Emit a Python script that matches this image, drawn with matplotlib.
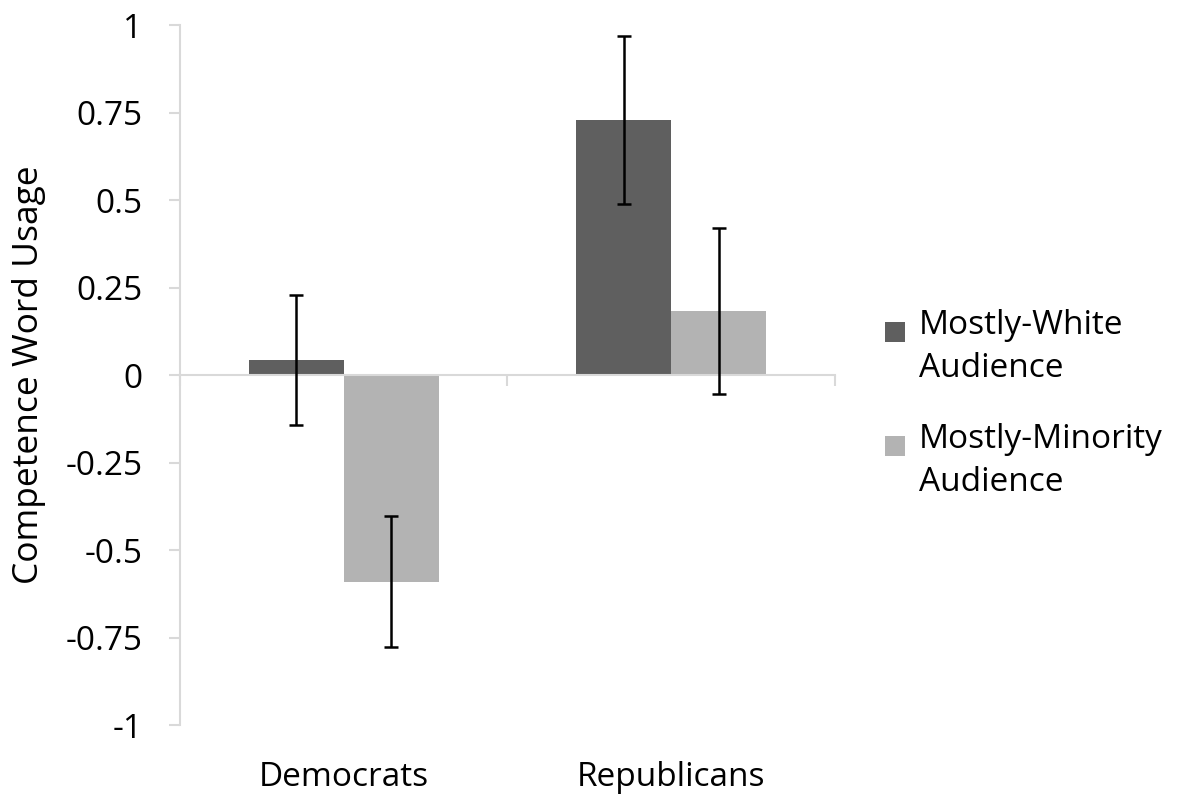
import numpy as np
import matplotlib
matplotlib.use("Agg")
import matplotlib.pyplot as plt
from matplotlib.legend_handler import HandlerPatch
from matplotlib.patches import Rectangle
from matplotlib.ticker import FixedLocator, FuncFormatter

plt.rcParams['font.family'] = ['Open Sans', 'DejaVu Sans']

# -------------------------
# Data
# -------------------------
categories = ['Democrats', 'Republicans']
series_names = ['Mostly-White\nAudience', 'Mostly-Minority\nAudience']
white_vals = [0.043, 0.729]
white_err = [0.185, 0.240]
minority_vals = [-0.590, 0.183]
minority_err = [0.186, 0.238]

colors = ['#5f5f5f', '#b3b3b3']
axis_grey = '#d9d9d9'


class TopSquare(HandlerPatch):
    # square aligned with first line of a two-line label
    def create_artists(self, legend, orig_handle, xdescent, ydescent,
                       width, height, fontsize, trans):
        size = 0.6 * fontsize
        p = Rectangle((-xdescent, -ydescent + height - size * 1.25), size, size,
                      facecolor=orig_handle.get_facecolor(), edgecolor='none',
                      transform=trans)
        return [p]


# -------------------------
# Plot
# -------------------------
fig = plt.figure(figsize=(11.91, 7.97), dpi=100)
ax = fig.add_axes([0.1511, 0.0903, 0.5499, 0.8783])

x = np.arange(len(categories))
w = 0.29

b1 = ax.bar(x - w / 2, white_vals, w, color=colors[0], label=series_names[0], zorder=2)
b2 = ax.bar(x + w / 2, minority_vals, w, color=colors[1], label=series_names[1], zorder=2)

ax.errorbar(x - w / 2, white_vals, yerr=white_err, fmt='none', ecolor='black',
            elinewidth=1.8, capsize=5, capthick=1.8, zorder=4)
ax.errorbar(x + w / 2, minority_vals, yerr=minority_err, fmt='none', ecolor='black',
            elinewidth=1.8, capsize=5, capthick=1.8, zorder=4)

# -------------------------
# Axes styling
# -------------------------
ax.set_xlim(-0.5, 1.5)
ax.set_ylim(-1, 1)

ax.yaxis.set_major_locator(FixedLocator(np.arange(-1, 1.01, 0.25)))
ax.yaxis.set_major_formatter(FuncFormatter(lambda v, p: f"{v:g}"))
ax.tick_params(axis='y', direction='out', length=8, width=1.5, color=axis_grey,
               labelsize=24, pad=19)

ax.spines['top'].set_visible(False)
ax.spines['right'].set_visible(False)
ax.spines['left'].set_color(axis_grey)
ax.spines['left'].set_linewidth(1.5)
ax.spines['bottom'].set_position(('data', 0))
ax.spines['bottom'].set_color(axis_grey)
ax.spines['bottom'].set_linewidth(1.5)
ax.spines['bottom'].set_zorder(3)

ax.set_xticks([-0.5, 0.5, 1.5])
ax.set_xticklabels([])
ax.tick_params(axis='x', direction='out', length=8, width=1.5, color=axis_grey)

for xi, name in zip(x, categories):
    ax.text(xi, -0.052, name, transform=ax.get_xaxis_transform(),
            ha='center', va='top', fontsize=24)

ax.set_ylabel("Competence Word Usage", fontsize=25.5, labelpad=14)

leg = ax.legend(handles=[b1.patches[0], b2.patches[0]], labels=series_names,
                loc='center left', bbox_to_anchor=(1.076, 0.459), frameon=False,
                fontsize=24, handler_map={Rectangle: TopSquare()},
                handlelength=0.6, handleheight=2.6, handletextpad=0.42,
                labelspacing=1.15, borderpad=0, borderaxespad=0)
for t in leg.get_texts():
    t.set_linespacing(1.4)

fig.savefig('out.png', dpi=100, facecolor='white')
